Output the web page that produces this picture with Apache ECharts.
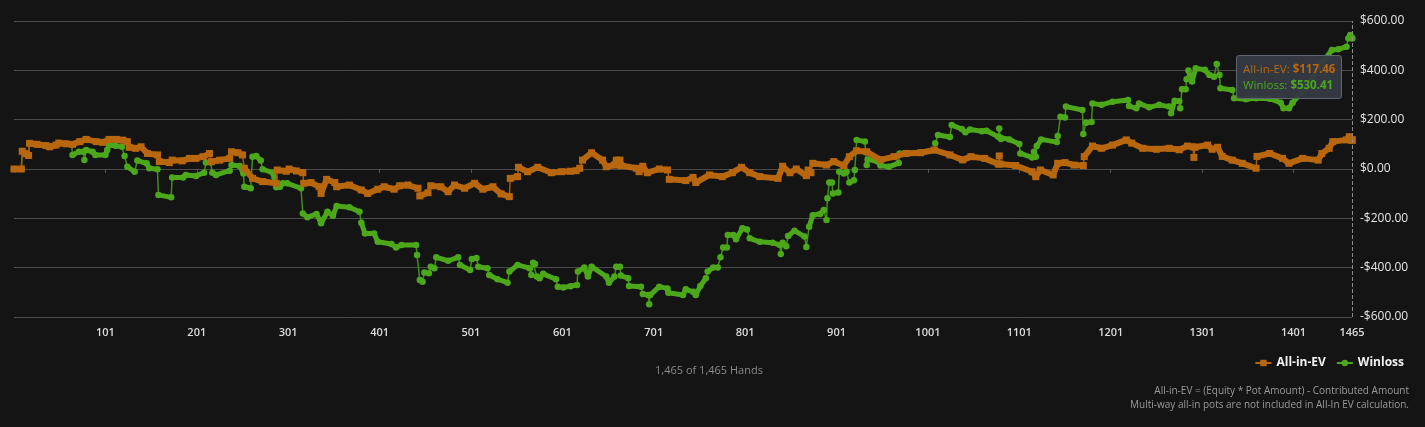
<!DOCTYPE html>
<html><head><meta charset="utf-8">
<script src="https://cdn.jsdelivr.net/npm/echarts@6/dist/echarts.min.js"></script>
<style>html,body{margin:0;padding:0;background:#141414;}#chart{width:1425px;height:427px;}</style>
</head><body><div id="chart"></div>
<script>
// Hand numbers and cumulative amounts
const evHands = [1,9,10,14,17,18,26,36,40,47,50,58,65,73,80,91,98,105,113,120,125,127,134,140,147,158,160,171,174,185,193,200,208,215,217,226,237,239,246,251,253,262,273,288,289,299,302,310,317,318,326,335,337,343,352,354,368,381,388,399,406,417,423,432,443,445,454,457,468,476,483,494,505,514,525,534,543,544,552,553,563,574,589,600,610,616,620,623,633,645,649,658,660,664,665,682,685,689,694,707,716,718,736,744,747,762,776,787,797,806,817,837,842,850,857,868,870,873,875,890,898,909,915,923,934,949,964,977,993,1008,1025,1039,1048,1063,1078,1079,1080,1097,1115,1119,1124,1138,1143,1151,1161,1171,1172,1181,1191,1203,1218,1224,1236,1251,1265,1276,1285,1291,1292,1293,1307,1312,1318,1323,1334,1345,1360,1361,1375,1389,1396,1411,1428,1432,1440,1444,1459,1462,1465];
const evValues = [0,0,72,62,55,104,100,95,90,97,105,102,100,111,120,111,108,120,120,117,111,88,84,90,63,57,30,26,36,33,43,43,50,63,30,36,43,70,66,57,3,-38,-51,-58,-4,-9,0,-8,-15,-58,-55,-72,-99,-42,-55,-72,-65,-85,-99,-82,-72,-82,-68,-65,-78,-109,-96,-68,-72,-92,-65,-78,-58,-82,-72,-101,-112,-38,-31,7,-11,7,-15,-11,-9,-7,3,36,66,36,9,16,36,36,14,3,-11,11,-15,0,-4,-42,-47,-34,-55,-24,-31,-15,7,-15,-31,-38,11,-15,0,-27,-4,-15,23,16,30,14,50,74,70,37,50,63,66,77,57,37,50,43,20,53,20,14,-11,-31,-4,-24,23,26,16,14,50,93,84,97,118,105,84,80,84,78,93,90,47,88,97,80,88,51,36,23,3,51,63,43,23,43,36,63,84,111,118,131,117.46];

const wlHands = [1,9,10,14,17,18,26,36,40,47,50,58,64,65,72,77,78,80,87,90,101,103,105,112,119,122,125,133,136,146,149,158,159,173,174,186,189,200,209,211,216,218,222,237,239,248,252,253,260,262,266,271,273,284,286,288,292,295,300,315,317,322,332,337,344,350,354,368,379,381,385,395,399,414,419,425,441,442,445,448,450,455,457,461,463,476,487,489,500,502,507,509,519,521,530,541,543,552,565,567,569,571,573,576,580,594,596,602,610,617,618,625,629,633,649,652,658,660,664,665,673,674,687,689,695,696,697,707,716,717,733,736,744,747,752,758,760,766,771,774,777,781,782,788,791,798,803,806,817,831,839,840,842,846,848,855,866,868,871,875,883,887,890,891,893,896,897,903,904,909,912,915,920,921,923,932,934,935,946,949,958,969,970,977,993,1008,1009,1012,1025,1027,1038,1042,1047,1060,1065,1078,1079,1080,1081,1090,1101,1102,1115,1117,1119,1120,1125,1142,1143,1146,1151,1152,1170,1171,1174,1180,1181,1191,1203,1220,1221,1229,1232,1243,1254,1265,1267,1271,1276,1277,1279,1283,1284,1286,1290,1294,1304,1309,1314,1317,1320,1321,1334,1336,1349,1360,1375,1387,1390,1396,1400,1415,1430,1443,1450,1459,1461,1463,1465];
const wlValues = [0,0,72,62,55,104,100,95,90,97,105,102,100,57,70,70,36,77,70,57,57,77,97,94,90,53,9,-11,34,23,3,-1,-105,-115,-34,-34,-24,-28,-15,26,26,-15,-24,-7,16,12,-18,-72,-78,50,53,34,-1,-15,-34,-74,-72,-58,-58,-78,-180,-196,-182,-220,-173,-190,-150,-155,-173,-218,-261,-261,-295,-304,-318,-308,-308,-349,-450,-457,-420,-423,-396,-402,-358,-372,-358,-389,-409,-365,-361,-396,-402,-430,-447,-461,-416,-389,-402,-430,-380,-385,-436,-443,-425,-447,-477,-480,-475,-470,-416,-399,-436,-396,-436,-461,-436,-396,-396,-432,-443,-474,-477,-507,-511,-548,-511,-477,-484,-502,-511,-488,-498,-511,-474,-443,-416,-399,-399,-358,-318,-318,-268,-268,-285,-240,-245,-281,-295,-299,-308,-345,-299,-313,-272,-250,-274,-316,-234,-187,-182,-166,-207,-119,-55,-55,-99,-95,-11,-18,-11,-55,-46,-4,118,111,16,39,30,14,9,24,63,63,66,77,104,138,130,178,162,149,160,153,155,131,164,128,122,120,101,63,47,70,50,93,120,109,134,212,209,253,239,142,188,191,266,260,273,280,255,246,266,250,260,253,226,277,275,246,323,323,364,399,355,408,402,381,374,426,381,327,320,287,283,287,285,269,246,246,269,330,420,482,485,496,530,543,530.41];

const seriesNames = ['All-in-EV', 'Winloss'];
const handCountText = '1,465 of 1,465 Hands';
const noteLines = ['All-in-EV = (Equity * Pot Amount) - Contributed Amount', 'Multi-way all-in pots are not included in All-In EV calculation.'];

const EV_COLOR = '#b8670e';
const WL_COLOR = '#4ca81a';
const EV_THIN = '#a65c0e';
const WL_THIN = '#3f8f16';

const evData = evHands.map((h, i) => [h - 1, evValues[i]]);
const wlData = wlHands.map((h, i) => [h - 1, wlValues[i]]);
const fmtMoney = v => (v < 0 ? '-$' : '$') + Math.abs(v).toFixed(2);

// break the thick band at steep jumps over a few hands; those are drawn by a thin line instead
function bandData(data) {
  const out = [];
  data.forEach((p, i) => {
    if (i > 0) {
      const q = data[i - 1];
      const dh = p[0] - q[0];
      const dx = dh * 0.914;
      const dy = Math.abs(p[1] - q[1]) / 4.054;
      if (dh <= 3 && dy > 5 && dy > 2.5 * dx) out.push([(p[0] + q[0]) / 2, null]);
    }
    out.push(p);
  });
  return out;
}
const evBand = bandData(evData);
const wlBand = bandData(wlData);

const chart = echarts.init(document.getElementById('chart'), null, {renderer: 'canvas'});
chart.setOption({
  backgroundColor: '#141414',
  animation: false,
  textStyle: {fontFamily: 'Open Sans'},
  grid: {left: 14, right: 73, top: 21, bottom: 110},
  xAxis: {
    type: 'value', min: 0, max: 1464, interval: 100,
    axisLine: {lineStyle: {color: '#4a4a4a'}},
    axisTick: {show: true, length: 4, lineStyle: {color: '#555'}},
    splitLine: {show: false},
    axisLabel: {color: '#dcdcdc', fontSize: 11, fontWeight: 600, margin: 10, showMaxLabel: true, showMinLabel: false,
      formatter: v => v === 0 ? '' : String(v + 1)}
  },
  yAxis: {
    type: 'value', position: 'right', min: -600, max: 600, interval: 200,
    axisLine: {show: false}, axisTick: {show: false},
    splitLine: {lineStyle: {color: '#4a4a4a', width: 1}},
    axisLabel: {color: '#e6e6e6', fontSize: 12, margin: 8, formatter: fmtMoney}
  },
  legend: {
    data: seriesNames, right: 16, top: 352, itemWidth: 16, itemHeight: 8, itemGap: 10,
    textStyle: {color: '#f2f2f2', fontWeight: 'bold', fontSize: 12, fontFamily: 'Open Sans'}
  },
  tooltip: {
    trigger: 'axis', triggerOn: 'none', alwaysShowContent: true, transitionDuration: 0,
    backgroundColor: 'rgba(52,57,67,0.96)', borderColor: '#5e6470', borderWidth: 1, padding: [5, 6],
    textStyle: {fontFamily: 'Open Sans', fontSize: 11.5},
    extraCssText: 'border-radius:3px;box-shadow:none;line-height:16px;',
    axisPointer: {type: 'line', lineStyle: {color: '#8a8a8a', type: 'dashed', width: 1}, label: {show: false}},
    position: (pt, params, dom, rect, size) => [pt[0] - size.contentSize[0] - 10, 55],
    formatter: params => params.filter(p => seriesNames.indexOf(p.seriesName) >= 0).map(p =>
      '<span style="color:' + p.color + '">' + p.seriesName + ': <b>' + fmtMoney(p.value[1]) + '</b></span>').join('<br>')
  },
  graphic: [
    {type: 'text', x: 709, y: 371, style: {text: handCountText, fill: '#8a8a8a', font: '11px "Open Sans"', align: 'center', verticalAlign: 'middle'}},
    {type: 'text', x: 1409, y: 391, style: {text: noteLines[0], fill: '#9a9a9a', font: '10px "Open Sans"', align: 'right', verticalAlign: 'middle'}},
    {type: 'text', x: 1409, y: 405, style: {text: noteLines[1], fill: '#9a9a9a', font: '10px "Open Sans"', align: 'right', verticalAlign: 'middle'}}
  ],
  series: [
    {name: seriesNames[0], type: 'line', data: evBand, z: 4, symbol: 'rect', symbolSize: 7, showSymbol: true, connectNulls: false,
      itemStyle: {color: EV_COLOR}, lineStyle: {width: 6, color: EV_COLOR}, emphasis: {disabled: true}},
    {name: 'All-in-EV steps', type: 'line', data: evData, z: 3, symbol: 'none', silent: true,
      lineStyle: {width: 1.5, color: EV_THIN}, emphasis: {disabled: true}, tooltip: {show: false}},
    {name: seriesNames[1], type: 'line', data: wlBand, z: 2, symbol: 'circle', symbolSize: 6.5, showSymbol: true, connectNulls: false,
      itemStyle: {color: WL_COLOR}, lineStyle: {width: 5, color: WL_COLOR}, emphasis: {disabled: true}},
    {name: 'Winloss steps', type: 'line', data: wlData, z: 1, symbol: 'none', silent: true,
      lineStyle: {width: 1.5, color: WL_THIN}, emphasis: {disabled: true}, tooltip: {show: false}}
  ]
});
chart.dispatchAction({type: 'showTip', seriesIndex: 2, dataIndex: wlBand.length - 1});
</script>
</body></html>
